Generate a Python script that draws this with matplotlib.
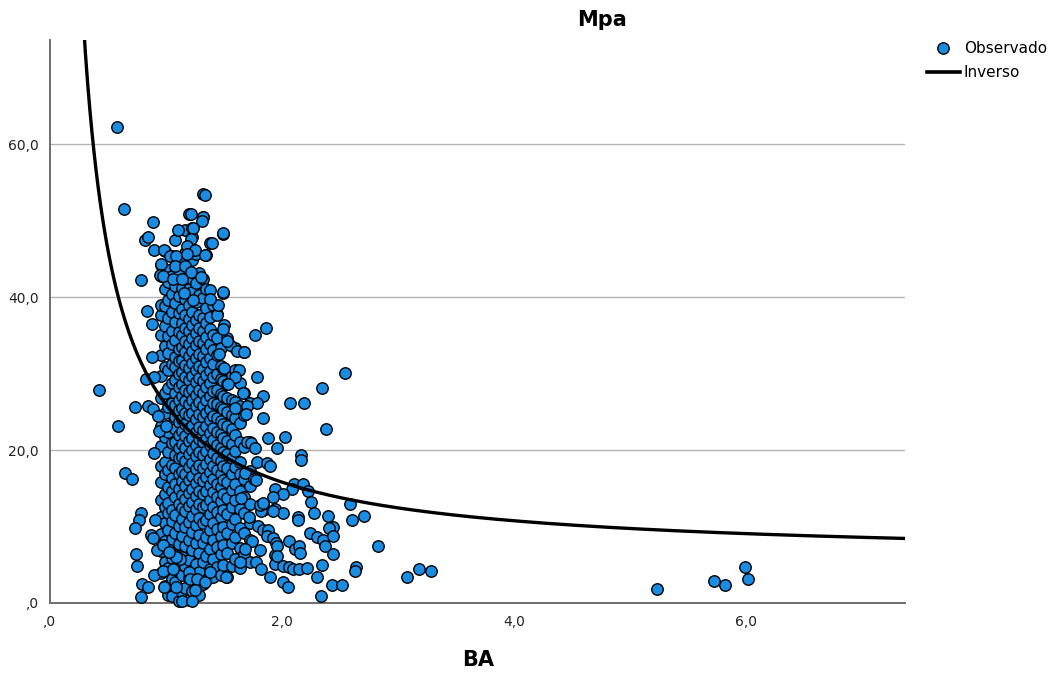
import numpy as np
import matplotlib
matplotlib.use("Agg")
import matplotlib.pyplot as plt
from matplotlib.lines import Line2D

# ---- data ----
# dense body of the scatter: one BA value per column, Mpa values stacked in it
col_ba = [0.955, 0.99, 1.015, 1.05, 1.075, 1.11, 1.135, 1.165, 1.20, 1.225, 1.26,
          1.285, 1.32, 1.345, 1.38, 1.405, 1.44, 1.47, 1.495, 1.53, 1.565, 1.595,
          1.64, 1.675, 1.72]
col_mpa = [
    [3.9, 6.8, 9.0, 11.2, 13.5, 15.8, 17.9, 20.5, 23.2, 26.8, 29.7, 32.4, 35.1, 37.6, 39.0, 42.7, 44.2],
    [2.2, 5.3, 8.1, 10.4, 12.6, 14.3, 16.9, 18.4, 21.7, 24.8, 27.5, 30.9, 33.6, 36.2, 38.8, 41.1, 43.6, 46.0],
    [1.0, 4.6, 7.2, 9.6, 11.8, 13.1, 15.2, 17.4, 19.8, 22.3, 25.6, 28.1, 30.4, 32.7, 34.9, 37.3, 39.6, 41.9],
    [0.9, 3.1, 5.9, 8.4, 10.7, 12.2, 14.6, 16.3, 18.1, 20.9, 23.4, 26.2, 28.8, 31.3, 33.8, 35.6, 38.1, 40.4, 42.8, 45.3],
    [2.7, 6.3, 9.1, 11.5, 13.8, 15.6, 17.7, 19.4, 21.1, 22.8, 24.3, 25.9, 27.4, 29.2, 30.8, 32.1, 34.4, 36.7, 39.2, 41.5, 44.0, 47.4],
    [0.2, 4.1, 7.7, 10.1, 12.9, 14.9, 16.8, 18.9, 20.3, 22.0, 23.7, 25.2, 26.6, 28.3, 29.9, 31.7, 33.2, 35.4, 37.9, 40.1, 43.1],
    [1.4, 3.6, 6.0, 8.7, 11.0, 12.4, 14.1, 15.9, 17.3, 19.1, 20.8, 22.5, 24.1, 25.5, 27.0, 28.6, 30.2, 31.8, 33.5, 35.0, 36.6, 38.4, 41.2, 44.6],
    [2.0, 4.9, 7.4, 9.9, 12.0, 13.6, 15.3, 16.9, 18.6, 20.2, 21.8, 23.4, 24.9, 26.4, 27.9, 29.6, 31.1, 32.8, 34.3, 36.0, 37.6, 39.8, 42.3, 45.8, 48.7],
    [0.4, 3.3, 5.6, 8.2, 10.6, 12.7, 14.4, 16.1, 17.8, 19.5, 21.2, 22.9, 24.6, 26.0, 27.6, 29.1, 30.7, 32.3, 33.9, 35.5, 37.1, 38.9, 41.0, 43.3, 46.0, 50.8],
    [1.6, 4.3, 6.9, 9.3, 11.4, 13.2, 14.9, 16.6, 18.3, 20.0, 21.6, 23.2, 24.8, 26.5, 28.0, 29.7, 31.4, 33.0, 34.6, 36.3, 38.1, 40.6, 42.4, 44.9, 47.9, 49.0],
    [2.9, 5.1, 7.8, 10.2, 12.3, 14.0, 15.7, 17.5, 19.2, 20.7, 22.4, 24.0, 25.7, 27.2, 28.9, 30.5, 32.0, 33.7, 35.3, 37.0, 39.3, 41.8, 45.6],
    [1.1, 4.0, 6.5, 8.9, 11.1, 13.0, 14.6, 16.4, 18.0, 19.7, 21.4, 23.0, 24.7, 26.3, 27.8, 29.4, 31.0, 32.6, 34.2, 35.9, 37.7, 40.2, 43.1],
    [2.5, 5.4, 7.9, 10.4, 12.5, 14.3, 16.0, 17.7, 19.3, 21.0, 22.6, 24.3, 25.8, 27.5, 29.0, 30.6, 32.3, 34.0, 35.6, 37.3, 39.9, 42.3, 50.5, 53.5],
    [3.0, 6.1, 8.6, 10.9, 12.8, 14.7, 16.5, 18.2, 19.9, 21.5, 23.1, 24.9, 26.6, 28.2, 29.8, 31.5, 33.2, 34.8, 36.6, 38.6, 41.0, 45.5],
    [4.4, 7.1, 9.5, 11.7, 13.5, 15.4, 17.1, 18.8, 20.6, 22.2, 23.9, 25.4, 27.1, 28.7, 30.3, 32.0, 33.9, 35.8, 37.4, 40.9, 47.1],
    [3.4, 5.8, 8.3, 10.5, 12.6, 14.5, 16.2, 17.9, 19.6, 21.3, 22.9, 24.5, 26.1, 27.7, 29.5, 31.2, 33.1, 35.0, 39.0],
    [4.7, 7.3, 9.7, 11.9, 13.9, 15.6, 17.4, 19.0, 20.7, 22.4, 24.2, 26.0, 27.9, 29.9, 32.4, 34.6, 37.8],
    [3.6, 6.4, 8.8, 11.3, 13.3, 15.1, 16.8, 18.6, 20.3, 22.1, 23.8, 25.6, 27.3, 29.3, 31.0, 33.4],
    [5.0, 7.6, 10.0, 12.1, 14.2, 16.1, 17.9, 19.7, 21.6, 23.4, 25.3, 27.0, 29.0, 30.6, 40.5, 48.3],
    [3.4, 6.6, 9.2, 11.6, 13.7, 15.8, 17.6, 19.5, 21.2, 23.1, 25.0, 26.8, 28.6, 34.6],
    [4.9, 7.9, 10.3, 12.6, 14.8, 16.9, 18.9, 20.8, 22.7, 24.6, 26.5, 29.8],
    [5.7, 8.6, 11.0, 13.4, 15.5, 17.8, 19.9, 22.0, 24.2, 26.3, 30.4, 33.3],
    [4.6, 7.2, 9.8, 12.3, 14.6, 16.8, 18.4, 21.0, 23.5, 25.8, 28.8],
    [6.4, 9.1, 11.8, 13.9, 16.2, 20.4, 24.6, 27.4, 32.8],
    [5.4, 8.3, 10.5, 12.9, 15.3, 17.3, 21.1, 26.1],
]

# scattered points around the dense body
extra_ba = [
    0.578, 0.638, 0.42, 0.589, 0.649, 0.704, 0.733, 0.782, 0.834, 0.819, 0.845,
    0.888, 0.894, 0.98, 0.882, 0.882, 0.825, 0.897, 0.845, 0.888, 0.931, 0.942,
    1.0, 0.897, 0.784, 0.77, 0.735, 0.905, 0.871, 0.891, 0.741, 0.75, 0.925,
    0.971, 0.897, 0.977, 0.796, 0.842, 0.782, 0.983, 1.084, 1.135, 1.227, 1.196,
    1.207, 1.27, 1.25, 1.339, 1.515, 1.379, 1.06, 1.12, 1.09, 1.03,
    1.339, 1.216, 1.319, 1.31, 1.103, 1.23, 1.491, 1.218, 1.394, 1.181, 1.253,
    1.334, 1.037, 1.084, 1.178, 0.954, 1.078, 1.166, 1.216, 0.948, 0.977, 1.063,
    1.135, 1.302, 1.491, 1.497, 1.437, 1.446, 1.379, 1.233, 1.158, 1.552, 1.612,
    1.672, 1.632, 1.592, 1.537, 1.666, 1.597, 1.494, 1.523, 1.459, 1.497,
    1.862, 1.767, 1.782, 2.546, 2.345, 1.834, 1.784, 1.696, 2.069, 2.192, 1.69,
    1.836, 2.382, 1.879, 2.026, 1.70, 1.73, 1.765, 1.96, 2.164, 2.164, 1.787,
    1.868, 1.897, 1.68, 1.759, 1.773, 2.103, 2.178, 1.94, 2.083, 2.22, 2.006,
    1.925, 1.834, 1.84, 1.816, 2.247, 2.276, 1.94, 2.006, 1.92, 2.586, 2.14,
    2.14, 2.40, 2.603, 2.71, 1.718, 1.796, 1.834, 1.882, 1.868, 1.92, 1.948,
    1.739, 2.063, 2.112, 2.149, 2.155, 2.241, 2.304, 2.351, 2.371, 2.437, 2.402,
    2.437, 2.443, 2.83, 1.78, 1.816, 1.897, 1.94, 1.94, 2.006, 2.063, 2.098,
    2.149, 2.213, 2.342, 2.302, 2.006, 2.049, 2.638, 2.629, 2.334, 2.431, 2.514,
    3.08, 3.18, 3.28, 5.235, 5.724, 5.819, 5.989, 6.02, 1.954, 1.954, 1.81,
    1.64, 1.68, 1.81, 1.84, 1.65,
]
extra_mpa = [
    62.2, 51.5, 27.8, 23.2, 17.0, 16.2, 25.6, 42.2, 38.2, 47.5, 47.8,
    49.8, 46.1, 46.1, 36.5, 32.2, 29.3, 29.5, 25.8, 25.3, 24.4, 22.5,
    23.2, 19.6, 11.8, 10.8, 9.8, 10.9, 8.9, 8.5, 6.4, 4.9, 6.9,
    7.6, 3.6, 4.2, 2.5, 2.1, 0.8, 2.1, 2.1, 0.3, 0.3, 4.0,
    3.2, 3.1, 1.7, 2.7, 3.4, 4.0, 4.4, 5.8, 6.0, 6.7,
    53.4, 50.8, 50.5, 50.0, 48.7, 49.0, 48.4, 47.6, 47.0, 46.7, 46.1,
    45.5, 45.3, 45.3, 45.6, 44.3, 44.1, 44.1, 43.3, 42.9, 42.7, 42.4,
    42.4, 42.6, 40.6, 36.4, 37.7, 38.9, 39.8, 39.6, 40.5, 33.7, 32.9,
    32.8, 30.5, 29.6, 28.6, 27.4, 25.5, 35.8, 34.3, 32.6, 30.7,
    35.9, 35.1, 29.5, 30.1, 28.1, 27.0, 26.2, 25.8, 26.1, 26.1, 24.7,
    24.2, 22.8, 21.6, 21.7, 21.0, 20.9, 20.3, 20.2, 19.3, 18.7, 18.4,
    18.3, 17.9, 17.0, 16.2, 16.1, 15.5, 15.5, 14.9, 14.9, 14.6, 14.2,
    13.9, 13.0, 12.2, 12.0, 13.2, 11.8, 12.3, 11.8, 12.0, 13.0, 11.2,
    10.8, 11.4, 10.8, 11.4, 11.2, 10.1, 9.6, 9.6, 8.7, 8.5, 7.8,
    8.1, 8.1, 7.1, 7.5, 6.5, 9.1, 8.6, 8.2, 7.5, 9.9, 9.8,
    8.7, 6.4, 7.5, 5.4, 4.5, 3.4, 6.3, 5.1, 4.8, 4.7, 4.5,
    4.4, 4.6, 5.0, 3.4, 2.7, 2.1, 4.7, 4.2, 0.9, 2.3, 2.4,
    3.4, 4.4, 4.2, 1.8, 2.9, 2.3, 4.7, 3.2, 7.5, 6.1, 6.9,
    5.4, 7.1, 12.8, 13.1, 13.7,
]

# inverse model  Mpa = b0 + b1 / BA
b0 = 5.7
b1 = 20.2

x_ticks = [0, 2, 4, 6]
x_labels = [",0", "2,0", "4,0", "6,0"]
y_ticks = [0, 20, 40, 60]
y_labels = [",0", "20,0", "40,0", "60,0"]

# ---- plot ----
ba = []
mpa = []
for x, ys in zip(col_ba, col_mpa):
    ba += [x] * len(ys)
    mpa += ys
ba += extra_ba
mpa += extra_mpa

fig = plt.figure(figsize=(10.63, 6.74), dpi=100)
ax = fig.add_axes([50 / 1063, 1 - 603 / 674, 855 / 1063, 563 / 674])

blue = "#1a8de3"
ax.scatter(ba, mpa, s=68, facecolor=blue, edgecolor="black", linewidths=1.0,
           zorder=3, clip_on=False)

xs = np.linspace(0.29, 7.37, 400)
ax.plot(xs, b0 + b1 / xs, color="black", lw=2.4, zorder=4)

ax.set_xlim(0, 7.37)
ax.set_ylim(0, 73.6)
ax.set_xticks(x_ticks)
ax.set_xticklabels(x_labels)
ax.set_yticks(y_ticks)
ax.set_yticklabels(y_labels)
ax.tick_params(length=0, labelsize=10, colors="#222222")
ax.tick_params(axis="x", pad=9)
ax.tick_params(axis="y", pad=8)

for s in ["top", "right"]:
    ax.spines[s].set_visible(False)
for s in ["left", "bottom"]:
    ax.spines[s].set_color("#6e6e6e")
    ax.spines[s].set_linewidth(1.4)

ax.yaxis.grid(True, color="#b4b4b4", lw=1.0)
ax.set_axisbelow(True)

fig.text(602 / 1063, 1 - 20 / 674, "Mpa", ha="center", va="center",
         fontsize=15, fontweight="bold")
fig.text(478 / 1063, 1 - 660 / 674, "BA", ha="center", va="center",
         fontsize=15, fontweight="bold")

handles = [
    Line2D([], [], marker="o", ls="none", markersize=8.2, markerfacecolor=blue,
           markeredgecolor="black", markeredgewidth=1.0),
    Line2D([], [], color="black", lw=2.6),
]
fig.legend(handles, ["Observado", "Inverso"], loc="upper left",
           bbox_to_anchor=(927 / 1063, 1 - 41 / 674), frameon=False,
           fontsize=11, handlelength=2.15, handletextpad=0.25, labelspacing=0.6,
           borderaxespad=0, borderpad=0)

fig.savefig("out.png", dpi=100)
